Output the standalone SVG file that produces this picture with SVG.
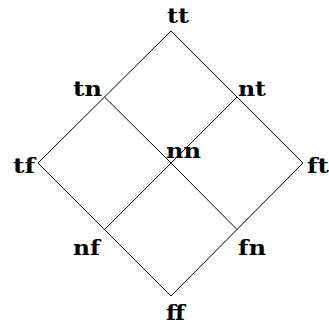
<svg xmlns="http://www.w3.org/2000/svg" width="329" height="327" viewBox="0 0 329 327">
<style>
.e{stroke:#000;stroke-width:1;fill:none}
.l{font-family:"DejaVu Serif","Liberation Serif",serif;font-weight:bold;font-size:21px;fill:#000}
</style>
<rect width="329" height="327" fill="#fff"/>
<g id="connectors">
<line class="e" x1="171" y1="31" x2="104.5" y2="97"/>
<line class="e" x1="104.5" y1="97" x2="38" y2="163"/>
<line class="e" x1="171" y1="31" x2="237" y2="97"/>
<line class="e" x1="237" y1="97" x2="303" y2="163"/>
<line class="e" x1="38" y1="163" x2="104.5" y2="229.5"/>
<line class="e" x1="104.5" y1="229.5" x2="171" y2="296"/>
<line class="e" x1="303" y1="163" x2="237" y2="229.5"/>
<line class="e" x1="237" y1="229.5" x2="171" y2="296"/>
<line class="e" x1="104.5" y1="97" x2="171" y2="163"/>
<line class="e" x1="171" y1="163" x2="237" y2="229.5"/>
<line class="e" x1="237" y1="97" x2="171" y2="163"/>
<line class="e" x1="171" y1="163" x2="104.5" y2="229.5"/>
</g>
<g id="tt"><text class="l" x="167" y="23" textLength="22" lengthAdjust="spacingAndGlyphs">tt</text></g>
<g id="tn"><text class="l" x="73" y="96" textLength="29" lengthAdjust="spacingAndGlyphs">tn</text></g>
<g id="nt"><text class="l" x="238" y="96" textLength="28" lengthAdjust="spacingAndGlyphs">nt</text></g>
<g id="tf"><text class="l" x="13" y="173" textLength="22" lengthAdjust="spacingAndGlyphs">tf</text></g>
<g id="nn"><text class="l" x="166" y="158" textLength="35" lengthAdjust="spacingAndGlyphs">nn</text></g>
<g id="ft"><text class="l" x="307" y="173" textLength="22" lengthAdjust="spacingAndGlyphs">ft</text></g>
<g id="nf"><text class="l" x="73" y="255" textLength="27" lengthAdjust="spacingAndGlyphs">nf</text></g>
<g id="fn"><text class="l" x="238" y="255" textLength="28" lengthAdjust="spacingAndGlyphs">fn</text></g>
<g id="ff"><text class="l" x="166" y="320" textLength="19" lengthAdjust="spacingAndGlyphs">ff</text></g>
</svg>
